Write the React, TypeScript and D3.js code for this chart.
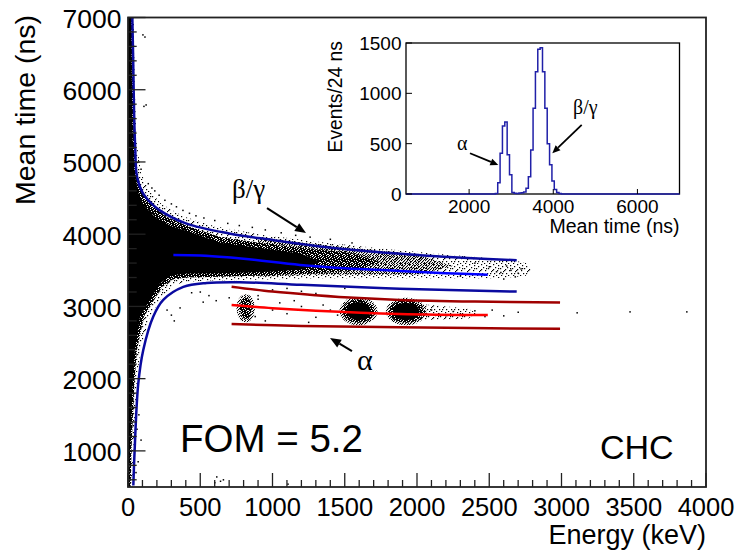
import React from 'react';
import * as d3 from 'd3';

// ---------- main axes ----------
const energyTicks = [0, 500, 1000, 1500, 2000, 2500, 3000, 3500, 4000];
const energyMinor = d3.range(0, 4001, 100);
const timeTicks = [1000, 2000, 3000, 4000, 5000, 6000, 7000];
const timeMinor = d3.range(600, 7001, 200);

// ---------- scatter density regions (Energy keV, Mean time ns) ----------
const coreE = [0, 22, 26, 32, 45, 75, 110, 190, 300, 415, 640, 980, 1200, 1330, 1200, 980, 640, 405, 300, 221, 152, 83, 48, 32, 14, 10, 0];
const coreT = [7000, 7000, 6200, 5300, 4850, 4550, 4400, 4230, 4110, 4040, 3880, 3790, 3730, 3620, 3510, 3480, 3460, 3455, 3430, 3318, 3090, 2856, 2395, 1938, 1010, 500, 500];

const denseE = [0, 30, 34, 42, 62, 105, 160, 260, 415, 640, 980, 1300, 1550, 1750, 1550, 1300, 980, 640, 405, 300, 240, 180, 110, 62, 44, 24, 18, 0];
const denseT = [7000, 7000, 6200, 5300, 4850, 4550, 4430, 4250, 4110, 3960, 3860, 3790, 3740, 3610, 3490, 3460, 3430, 3410, 3400, 3370, 3280, 3090, 2856, 2395, 1938, 1010, 500, 500];

const mediumE = [900, 1300, 1700, 2000, 2250, 2000, 1700, 1300, 900];
const mediumT = [3960, 3860, 3780, 3720, 3560, 3440, 3440, 3440, 3410];

const sparseE = [0, 40, 46, 58, 90, 150, 230, 380, 600, 900, 1300, 1800, 2200, 2550, 2750, 2790, 2750, 2550, 2200, 1800, 1300, 900, 560, 400, 310, 230, 150, 85, 60, 36, 30, 0];
const sparseT = [7000, 7000, 6100, 5300, 4850, 4600, 4420, 4250, 4110, 4000, 3900, 3790, 3720, 3660, 3610, 3500, 3420, 3390, 3390, 3390, 3390, 3370, 3360, 3340, 3290, 3120, 2856, 2395, 1938, 1010, 500, 500];

// alpha tail after the 1900 keV blob
const tailE = [1980, 2150, 2350, 2420, 2350, 2150, 1980];
const tailT = [3040, 3010, 2970, 2900, 2830, 2820, 2810];

// alpha blobs
const blobE = [815, 1595, 1925];
const blobT = [2975, 2935, 2930];
const blobOuterRE = [64, 132, 140];
const blobOuterRT = [195, 195, 190];
const blobMidRE = [42, 110, 118];
const blobMidRT = [150, 160, 155];
const blobCoreRE = [0, 85, 92];
const blobCoreRT = [0, 125, 120];

// isolated events
const scatE = [103, 117, 110, 125, 75, 90, 140, 165, 185, 215, 255, 300, 335, 380, 425, 470, 525, 600, 690, 770, 860, 950, 1060, 1160, 1260, 1400, 1550,
  270, 300, 320, 360, 500, 560, 610, 520, 440,
  75, 90, 70, 55, 62,
  614, 640, 660, 1107, 600,
  900, 1100, 1300, 700, 1500, 1200, 1000,
  1000, 1100, 1200, 1300, 1400, 1050, 950, 1250, 1350, 1450, 1150, 880, 900,
  2100, 2150, 2200, 2250, 2300, 2400, 2470, 2520, 2600, 2700, 3108, 3474, 3867,
  2500, 2550, 2600, 2650, 2700, 2720, 2400, 2300, 2450, 2620, 2680, 2580];
const scatT = [6760, 6730, 5770, 5790, 5000, 4900, 4700, 4640, 4600, 4540, 4470, 4420, 4380, 4330, 4290, 4255, 4225, 4190, 4150, 4120, 4095, 4060, 4020, 3985, 3960, 3930, 3880,
  2950, 2880, 2800, 2980, 3200, 3150, 3080, 3060, 3190,
  1500, 1150, 850, 700, 1300,
  640, 580, 600, 540, 560,
  3150, 3250, 3180, 3120, 3250, 3210, 3230,
  2950, 2900, 3000, 2850, 2950, 3050, 2800, 2780, 3020, 2880, 3080, 2860, 3100,
  2950, 2900, 2870, 2930, 2900, 2940, 2860, 2950, 2870, 2920, 2912, 2925, 2925,
  3550, 3480, 3380, 3500, 3460, 3520, 3600, 3420, 3440, 3560, 3410, 3470];

// fit / selection curves
const bgUpE = [30, 36, 42, 50, 62, 100, 160, 220, 400, 700, 1000, 1330, 1680, 2020, 2350, 2690];
const bgUpT = [7000, 6400, 5700, 5200, 4800, 4580, 4430, 4330, 4150, 4010, 3920, 3830, 3760, 3710, 3670, 3640];
const bgMidE = [314, 500, 800, 1190, 1500, 1880, 2200, 2490];
const bgMidT = [3712, 3705, 3660, 3575, 3530, 3492, 3460, 3440];
const bgLowE = [37, 46, 71, 106, 175, 244, 383, 544, 775, 1200, 1880, 2690];
const bgLowT = [520, 1010, 1930, 2400, 2860, 3090, 3270, 3325, 3335, 3300, 3245, 3205];
const alUpE = [717, 1000, 1300, 1600, 1880, 2400, 2990];
const alUpT = [3272, 3205, 3155, 3115, 3090, 3068, 3055];
const alMidE = [717, 1000, 1300, 1880, 2490];
const alMidT = [3020, 2975, 2940, 2895, 2880];
const alLowE = [717, 1200, 1880, 2990];
const alLowT = [2755, 2730, 2710, 2690];

// ---------- inset histogram ----------
const histStart = 2624;
const histBin = 56;
const histCounts = [5, 112, 404, 675, 715, 390, 190, 15, 8, 5, 10, 12, 20, 56, 172, 437, 851, 1215, 1437, 1452, 1215, 851, 500, 290, 130, 45, 15, 5];
const insetXTicks = [2000, 4000, 6000];
const insetYTicks = [0, 500, 1000, 1500];

const SANS = '"Liberation Sans", Arial, Helvetica, sans-serif';
const SERIF = '"Liberation Serif", "Times New Roman", serif';

function Arrow({ x1, y1, x2, y2, head = 11, w = 4.5, sw = 2 }) {
  const a = Math.atan2(y2 - y1, x2 - x1);
  const bx = x2 - head * Math.cos(a);
  const by = y2 - head * Math.sin(a);
  const px = -Math.sin(a) * w;
  const py = Math.cos(a) * w;
  return (
    <g>
      <line x1={x1} y1={y1} x2={bx} y2={by} stroke="#000" strokeWidth={sw} />
      <polygon points={`${x2},${y2} ${bx + px},${by + py} ${bx - px},${by - py}`} fill="#000" />
    </g>
  );
}

const denseHoles = [[0, 0], [3, 0], [6, 1], [1, 2], [4, 2], [7, 3], [2, 4], [5, 5], [0, 6], [3, 6], [6, 7], [1, 7], [4, 4], [7, 6], [2, 1]];
const sparseDots = [[1, 0], [6, 1], [10, 2], [3, 3], [8, 4], [1, 5], [0, 6], [5, 6], [11, 7], [2, 9], [7, 9], [10, 9], [9, 11], [4, 11], [6, 4]];
const medDots = [[0, 0], [2, 0], [5, 0], [1, 1], [4, 1], [7, 1], [3, 2], [6, 2], [0, 3], [2, 3], [5, 3], [1, 4], [4, 4], [7, 4], [3, 5], [6, 5], [0, 6], [2, 6], [5, 6], [1, 7], [4, 7], [7, 7]];

export default function App() {
  const x = d3.scaleLinear().domain([0, 4000]).range([128, 706]);
  const y = d3.scaleLinear().domain([500, 7000]).range([487, 17.5]);

  const poly = (es, ts) => es.map((e, i) => `${x(e)},${y(ts[i])}`).join(' ');
  const line = d3.line().curve(d3.curveCatmullRom.alpha(0.5));
  const curve = (es, ts) => line(es.map((e, i) => [x(e), y(ts[i])]));

  // inset scales
  const ix = d3.scaleLinear().domain([500, 7000]).range([406, 679.5]);
  const iy = d3.scaleLinear().domain([0, 1500]).range([194, 43]);
  const pts = [[500, 0], [histStart, 0]];
  histCounts.forEach((c, i) => {
    pts.push([histStart + i * histBin, c]);
    pts.push([histStart + (i + 1) * histBin, c]);
  });
  pts.push([histStart + histCounts.length * histBin, 0]);
  pts.push([7000, 0]);
  const histPath = d3.line()(pts.map(([t, c]) => [ix(t), iy(c)]));

  const ell = (i, re, rt, fill) => (
    <ellipse cx={x(blobE[i])} cy={y(blobT[i])} rx={x(re[i]) - x(0)} ry={y(0) - y(rt[i])} fill={fill} />
  );

  return (
    <div style={{ position: 'fixed', left: 0, top: 0, width: 741, height: 552, background: '#fff' }}>
      <svg width={741} height={552} style={{ display: 'block' }}>
        <defs>
          <pattern id="pDense" width={8} height={8} patternUnits="userSpaceOnUse">
            <rect width={8} height={8} fill="#000" />
            {denseHoles.map(([a, b], i) => <rect key={i} x={a} y={b} width={1} height={1} fill="#fff" />)}
          </pattern>
          <pattern id="pSparse" width={12} height={12} patternUnits="userSpaceOnUse">
            {sparseDots.map(([a, b], i) => <rect key={i} x={a} y={b} width={1.2} height={1.2} fill="#000" />)}
          </pattern>
          <pattern id="pMed" width={8} height={8} patternUnits="userSpaceOnUse">
            {medDots.map(([a, b], i) => <rect key={i} x={a} y={b} width={1.1} height={1.1} fill="#000" />)}
          </pattern>
          <clipPath id="plotClip">
            <rect x={128} y={17.5} width={578} height={469.5} />
          </clipPath>
        </defs>
        <rect width={741} height={552} fill="#fff" />

        <g clipPath="url(#plotClip)">
          <polygon points={poly(sparseE, sparseT)} fill="url(#pSparse)" />
          <polygon points={poly(tailE, tailT)} fill="url(#pSparse)" />
          <polygon points={poly(mediumE, mediumT)} fill="url(#pMed)" />
          <polygon points={poly(denseE, denseT)} fill="url(#pDense)" />
          <polygon points={poly(coreE, coreT)} fill="#000" />
          {blobE.map((e, i) => (
            <g key={i}>
              {ell(i, blobOuterRE, blobOuterRT, 'url(#pMed)')}
              {ell(i, blobMidRE, blobMidRT, 'url(#pDense)')}
              {blobCoreRE[i] > 0 && ell(i, blobCoreRE, blobCoreRT, '#000')}
            </g>
          ))}
          {scatE.map((e, i) => (
            <rect key={i} x={x(e) - 0.7} y={y(scatT[i]) - 0.7} width={1.5} height={1.5} fill="#000" />
          ))}

          <path d={curve(bgUpE, bgUpT)} fill="none" stroke="#0a0aa0" strokeWidth={2.5} />
          <path d={curve(bgLowE, bgLowT)} fill="none" stroke="#0a0aa0" strokeWidth={2.5} />
          <path d={curve(bgMidE, bgMidT)} fill="none" stroke="#0000ff" strokeWidth={2.5} />
          <path d={curve(alUpE, alUpT)} fill="none" stroke="#a00000" strokeWidth={2.5} />
          <path d={curve(alLowE, alLowT)} fill="none" stroke="#a00000" strokeWidth={2.5} />
          <path d={curve(alMidE, alMidT)} fill="none" stroke="#ff0000" strokeWidth={2.5} />
        </g>

        {/* main frame */}
        <rect x={128} y={17.5} width={578} height={469.5} fill="none" stroke="#222" strokeWidth={1.8} />
        {energyMinor.map((e) => {
          const major = e % 500 === 0;
          return <line key={e} x1={x(e)} x2={x(e)} y1={487} y2={487 - (major ? 14 : 7)} stroke="#222" strokeWidth={1.3} />;
        })}
        {timeMinor.map((t) => {
          const major = t % 1000 === 0;
          return <line key={t} x1={128} x2={128 + (major ? 17.5 : 8.7)} y1={y(t)} y2={y(t)} stroke="#222" strokeWidth={1.3} />;
        })}
        {energyTicks.map((e) => (
          <text key={e} x={x(e)} y={516} textAnchor="middle" fontFamily={SANS} fontSize={25.5} fill="#000">{e}</text>
        ))}
        {timeTicks.map((t) => (
          <text key={t} x={121.5} y={y(t) + 10.5} textAnchor="end" fontFamily={SANS} fontSize={26.5} fill="#000">{t}</text>
        ))}
        <text x={706} y={544} textAnchor="end" fontFamily={SANS} fontSize={27} fill="#000">Energy (keV)</text>
        <text transform="translate(35,15) rotate(-90)" textAnchor="end" fontFamily={SANS} fontSize={28.5} fill="#000">Mean time (ns)</text>

        {/* annotations */}
        <text x={x(720)} y={y(4501)} fontFamily={SERIF} fontSize={27} fill="#000">β/γ</text>
        <Arrow x1={x(962)} y1={y(4362)} x2={x(1232)} y2={y(4016)} />
        <text x={x(1585)} y={y(2119)} fontFamily={SERIF} fontSize={30} fill="#000">α</text>
        <Arrow x1={x(1550)} y1={y(2382)} x2={x(1398)} y2={y(2562)} />
        <text x={x(360)} y={y(978)} fontFamily={SANS} fontSize={38.5} fill="#000">FOM = 5.2</text>
        <text x={x(3266)} y={y(890)} fontFamily={SANS} fontSize={34} fill="#000">CHC</text>

        {/* inset */}
        <rect x={406} y={43} width={273.5} height={151} fill="#fff" stroke="#000" strokeWidth={1.3} />
        <path d={histPath} fill="none" stroke="#2020a8" strokeWidth={1.5} />
        {insetXTicks.map((t) => (
          <g key={t}>
            <line x1={ix(t)} x2={ix(t)} y1={194} y2={189} stroke="#000" strokeWidth={1} />
            <text x={ix(t)} y={213} textAnchor="middle" fontFamily={SANS} fontSize={19} fill="#000">{t}</text>
          </g>
        ))}
        {insetYTicks.map((c) => (
          <g key={c}>
            <line x1={406} x2={412} y1={iy(c)} y2={iy(c)} stroke="#000" strokeWidth={1} />
            <text x={401.5} y={iy(c) + 7} textAnchor="end" fontFamily={SANS} fontSize={19} fill="#000">{c}</text>
          </g>
        ))}
        <text x={679.5} y={233} textAnchor="end" fontFamily={SANS} fontSize={19.5} fill="#000">Mean time (ns)</text>
        <text transform="translate(342,41) rotate(-90)" textAnchor="end" fontFamily={SANS} fontSize={19.3} fill="#000">Events/24 ns</text>
        <text x={ix(1712)} y={iy(437)} fontFamily={SERIF} fontSize={20} fill="#000">α</text>
        <Arrow x1={ix(2021)} y1={iy(405)} x2={ix(2694)} y2={iy(288)} head={8} w={3.5} sw={1.8} />
        <text x={ix(4469)} y={iy(795)} fontFamily={SERIF} fontSize={20} fill="#000">β/γ</text>
        <Arrow x1={ix(4676)} y1={iy(686)} x2={ix(3977)} y2={iy(405)} head={8} w={3.5} sw={1.8} />
      </svg>
    </div>
  );
}
